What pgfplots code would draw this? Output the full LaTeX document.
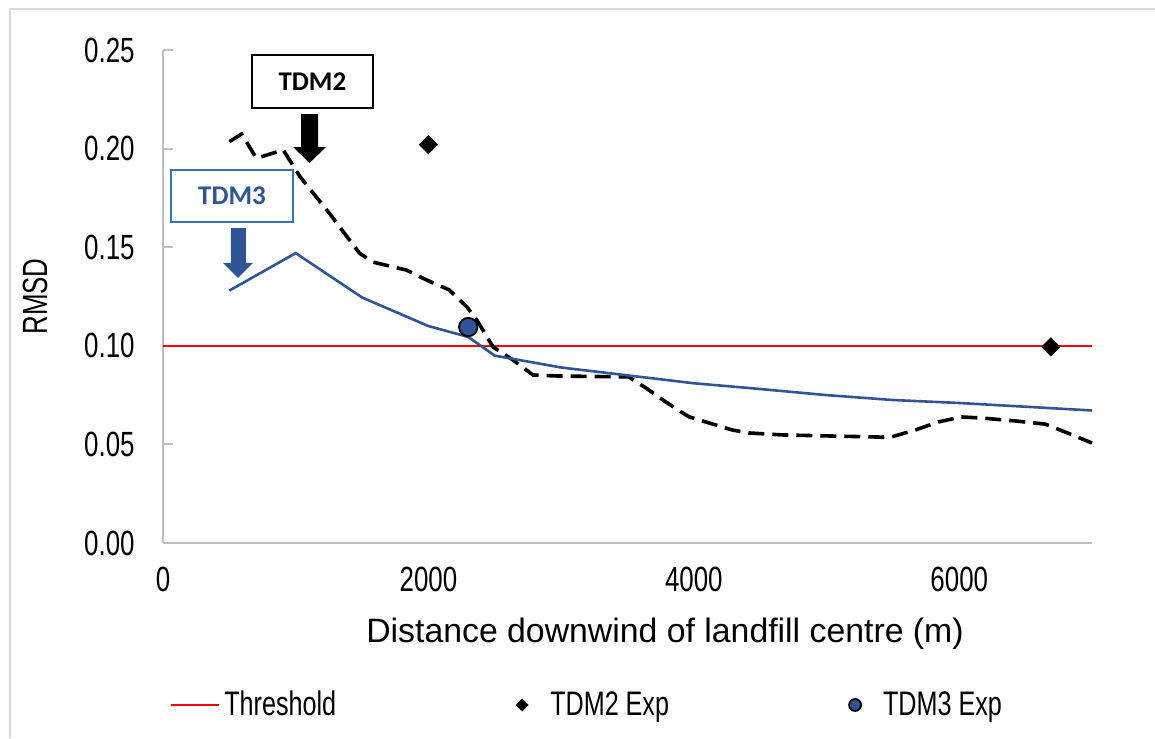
\documentclass[border=0pt]{standalone}
\usepackage{fontspec}
\setmainfont{Liberation Sans}
\newfontfamily\carlito{Carlito}
\usepackage{graphicx}
\usepackage{pgfplots}
\usepackage{pgfplotstable}
\pgfplotsset{compat=1.18}
\definecolor{axgray}{HTML}{BFBFBF}
\definecolor{framegray}{HTML}{D9D9D9}
\definecolor{tdmblue}{HTML}{2F5597}
\definecolor{boxblue}{HTML}{2E75B6}
\newcommand{\nar}[1]{\scalebox{0.74}[1]{#1}}
\pgfplotsset{
  linelegend/.style={legend image code/.code={\draw[##1] (0pt,0pt) -- (24pt,0pt);}},
  marklegend/.style={legend image code/.code={\path[draw=none,fill=none] (0pt,0pt) rectangle (24pt,0.1pt);\draw[mark repeat=2,mark phase=2,##1, every mark/.append style={scale=0.65}] plot coordinates {(0pt,0pt)(12pt,0pt)(24pt,0pt)};}},
}

\pgfplotstableread{
x y
500 0.2035
592 0.2074
704 0.1951
906 0.1993
1030 0.186
1256 0.1670
1480 0.147
1579 0.1425
1834 0.1384
1985 0.1334
2158 0.1283
2235 0.1232
2290 0.1197
2364 0.1131
2487 0.0994
2637 0.0928
2788 0.0852
2968 0.0847
3510 0.0842
3639 0.0786
3789 0.0715
3962 0.0640
4290 0.0573
4414 0.0558
4665 0.0548
5414 0.0537
5500 0.0540
5669 0.0573
5842 0.0614
6015 0.0639
6165 0.0634
6421 0.0619
6647 0.0603
6797 0.0563
7000 0.0507
}\tdmtwo

\pgfplotstableread{
x y
500 0.128
1000 0.147
1500 0.1245
2000 0.110
2300 0.1045
2500 0.095
3000 0.089
3500 0.085
4000 0.081
4414 0.0786
5000 0.075
5500 0.0725
6000 0.071
7000 0.0672
}\tdmthree

\begin{document}
\begin{tikzpicture}
\useasboundingbox (0,0) rectangle (577.5pt,369pt);
\draw[framegray, line width=1.2pt] (5pt,0pt) -- (5pt,364.5pt) -- (577.5pt,364.5pt);
\begin{axis}[
  at={(81.5pt,97.5pt)}, anchor=south west,
  scale only axis, width=464.5pt, height=246.5pt,
  xmin=0, xmax=7000, ymin=0, ymax=0.25,
  axis lines=left,
  axis line style={axgray, line width=1pt, -},
  xtick={0,2000,4000,6000},
  ytick={0,0.05,0.1,0.15,0.2,0.25},
  xtick style={draw=none},
  ytick style={axgray, line width=1pt},
  tick align=inside,
  major tick length=5pt,
  tick label style={font=\fontsize{17.5}{20}\selectfont},
  yticklabel={\nar{\pgfmathprintnumber[assume math mode=true,fixed,fixed zerofill,precision=2]{\tick}}},
  xticklabel={\nar{\pgfmathprintnumber[assume math mode=true,fixed,precision=0,1000 sep={}]{\tick}}},
  yticklabel style={anchor=east, inner sep=0pt, xshift=-14pt},
  xticklabel style={anchor=north, inner sep=0pt, yshift=-12pt},
  xlabel={Distance downwind of landfill centre (m)},
  xlabel style={at={(axis description cs:0.5404,-0.2028)}, anchor=base, font=\fontsize{16.9}{19}\selectfont},
  ylabel={\nar{RMSD}},
  ylabel style={at={(axis description cs:-0.1378,0.5)}, anchor=center, font=\fontsize{17.5}{20}\selectfont},
  legend columns=3,
  legend cell align=left,
  legend style={at={(axis description cs:0.0075,-0.3286)}, anchor=west, draw=none, fill=none,
    inner sep=0pt,
    font=\fontsize{17}{20}\selectfont,
    /tikz/every even column/.append style={column sep=79pt}},
  clip=false,
]
\addplot[red, line width=1pt, linelegend]
  coordinates {(0,0.1) (7000,0.1)};
\addlegendentry{\nar{Threshold}}

\addplot[black, line width=1.8pt, dash pattern=on 8pt off 4pt, forget plot] table[x=x,y=y] {\tdmtwo};
\addplot[tdmblue, line width=1.3pt, forget plot] table[x=x,y=y] {\tdmthree};

\addplot[only marks, mark=square*, mark size=3.2pt, mark options={rotate=45, fill=black, draw=black}, marklegend]
  coordinates {(2000,0.202) (6690,0.0995)};
\addlegendentry{\nar{TDM2 Exp}}

\addplot[only marks, mark=*, mark size=4.6pt, mark options={fill=tdmblue, draw=black, line width=0.9pt}, marklegend]
  coordinates {(2300,0.1095)};
\addlegendentry{\nar{TDM3 Exp}}

% annotations
\node[draw=black, line width=0.8pt, fill=white, minimum width=60.5pt, minimum height=26.5pt, inner sep=0pt,
  font=\carlito\bfseries\fontsize{13.5}{15}\selectfont] at (axis cs:1126,0.234) {TDM2};
\fill[black] (axis cs:1040,0.2175) -- (axis cs:1168,0.2175) -- (axis cs:1168,0.2008) -- (axis cs:1228,0.2008)
  -- (axis cs:1104,0.1927) -- (axis cs:980,0.2008) -- (axis cs:1040,0.2008) -- cycle;
\node[draw=boxblue, line width=0.8pt, fill=white, minimum width=61pt, minimum height=26pt, inner sep=0pt,
  text=tdmblue, font=\carlito\bfseries\fontsize{13.5}{15}\selectfont] at (axis cs:520,0.176) {TDM3};
\fill[tdmblue] (axis cs:512,0.1597) -- (axis cs:625,0.1597) -- (axis cs:625,0.142) -- (axis cs:678,0.142)
  -- (axis cs:565,0.1344) -- (axis cs:452,0.142) -- (axis cs:512,0.142) -- cycle;
\end{axis}
\end{tikzpicture}
\end{document}
